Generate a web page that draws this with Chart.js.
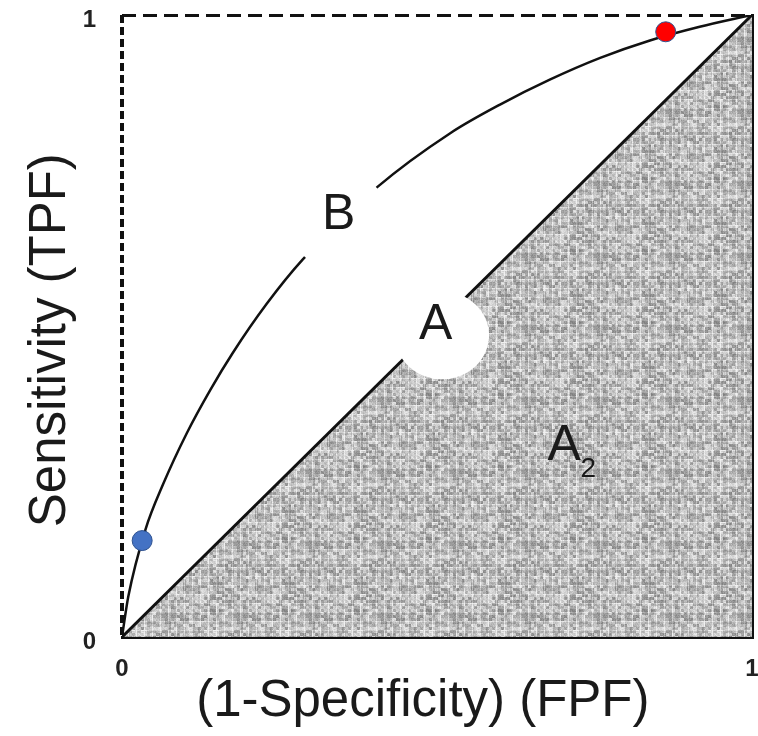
<!DOCTYPE html>
<html>
<head>
<meta charset="utf-8">
<script src="https://cdn.jsdelivr.net/npm/chart.js@4"></script>
<style>
  html, body { margin: 0; background: #fff; }
</style>
</head>
<body>
<canvas id="rocChart" width="758" height="736"></canvas>
<script>
// ROC curve B
const curveFpf = [0, 0.01, 0.037, 0.065, 0.103, 0.14, 0.176, 0.23, 0.287, 0.406, 0.521, 0.6, 0.679, 0.759, 0.838, 0.917, 1];
const curveTpf = [0, 0.065, 0.172, 0.245, 0.328, 0.397, 0.457, 0.536, 0.607, 0.724, 0.81, 0.856, 0.896, 0.931, 0.959, 0.981, 1];
// chance line
const diagFpf = [0, 1];
const diagTpf = [0, 1];
// highlighted operating points
const markerFpf = [0.032, 0.863];
const markerTpf = [0.155, 0.973];
const markerColors = ['#4472C4', '#FF0000'];
const tickValues = [0, 1];

const FONT = "'Liberation Sans', Arial, sans-serif";

// grey halftone texture for area A2
function makeTexture() {
  const c = document.createElement('canvas');
  c.width = 72; c.height = 72;
  const g = c.getContext('2d');
  const img = g.createImageData(72, 72);
  for (let j = 0; j < 72; j++) {
    for (let i = 0; i < 72; i++) {
      let h = Math.sin(Math.floor(i / 3) * 12.9898 + Math.floor(j / 3) * 78.233) * 43758.5453;
      h = h - Math.floor(h);
      let h2 = Math.sin(i * 3.17 + j * 17.41) * 9631.77;
      h2 = h2 - Math.floor(h2);
      let v = 125 + 80 * h + 30 * h2;
      if (i % 8 === 0) v += 35;
      if (j % 9 === 0) v += 25;
      v = Math.min(240, v);
      const k = (j * 72 + i) * 4;
      img.data[k] = img.data[k + 1] = img.data[k + 2] = v;
      img.data[k + 3] = 255;
    }
  }
  g.putImageData(img, 0, 0);
  return g.createPattern(c, 'repeat');
}

const regionLabels = {
  id: 'regionLabels',
  afterDatasetsDraw(chart) {
    const {ctx, scales: {x, y}} = chart;
    const px = v => x.getPixelForValue(v);
    const py = v => y.getPixelForValue(v);
    ctx.save();
    // white gaps behind the letters
    ctx.fillStyle = '#fff';
    ctx.beginPath();
    ctx.ellipse(px(0.344), py(0.67), 50, 50, 0, 0, 2 * Math.PI);
    ctx.fill();
    ctx.beginPath();
    ctx.ellipse(px(0.508), py(0.485), 47, 44, 0, 0, 2 * Math.PI);
    ctx.fill();

    ctx.fillStyle = '#1a1a1a';
    ctx.textAlign = 'center';
    ctx.textBaseline = 'middle';
    ctx.font = '50px ' + FONT;
    ctx.fillText('B', px(0.344), py(0.678));
    ctx.fillText('A', px(0.498), py(0.502));
    ctx.fillText('A', px(0.702), py(0.306));
    ctx.font = '28px ' + FONT;
    ctx.fillText('2', px(0.74), py(0.27));
    ctx.restore();
  }
};

const edgeOnly = v => c => (c.tick && c.tick.value === v ? '#111' : 'rgba(0,0,0,0)');

const ctx = document.getElementById('rocChart').getContext('2d');
new Chart(ctx, {
  type: 'scatter',
  data: {
    datasets: [
      {
        label: 'points',
        data: markerFpf.map((v, i) => ({x: v, y: markerTpf[i]})),
        pointRadius: 10,
        pointBackgroundColor: markerColors,
        pointBorderColor: '#2F528F',
        pointBorderWidth: 1,
        showLine: false,
        order: 0
      },
      {
        label: 'B',
        data: curveFpf.map((v, i) => ({x: v, y: curveTpf[i]})),
        showLine: true,
        borderColor: '#111',
        borderWidth: 2.5,
        pointRadius: 0,
        cubicInterpolationMode: 'monotone',
        fill: false,
        order: 1
      },
      {
        label: 'chance',
        data: diagFpf.map((v, i) => ({x: v, y: diagTpf[i]})),
        showLine: true,
        borderColor: '#111',
        borderWidth: 3,
        pointRadius: 0,
        fill: 'start',
        backgroundColor: makeTexture(),
        order: 2
      }
    ]
  },
  options: {
    responsive: false,
    animation: false,
    layout: { autoPadding: false, padding: { top: 15, right: 0, bottom: 0, left: 0 } },
    plugins: {
      legend: { display: false },
      tooltip: { enabled: false }
    },
    scales: {
      x: {
        type: 'linear', position: 'bottom', min: 0, max: 1,
        afterBuildTicks: s => { s.ticks = tickValues.map(v => ({value: v})); },
        ticks: { padding: 18, color: '#222', font: { family: FONT, size: 24, weight: 'bold' } },
        // the grid line at 0 is the dashed left edge
        grid: { drawTicks: false, color: edgeOnly(0), lineWidth: 4 },
        border: { color: '#111', width: 3, dash: [8, 4] },
        title: {
          display: true, text: '(1-Specificity) (FPF)  ', color: '#1a1a1a',
          font: { family: FONT, size: 51 }, padding: { top: 0, bottom: 3 }
        },
        afterFit: s => { s.height = 99; s.paddingLeft = 0; s.paddingRight = 0; }
      },
      y: {
        type: 'linear', position: 'left', min: 0, max: 1,
        afterBuildTicks: s => { s.ticks = tickValues.map(v => ({value: v})); },
        ticks: { padding: 26, labelOffset: 5, color: '#222', font: { family: FONT, size: 24, weight: 'bold' } },
        // the grid line at 1 is the dashed top edge
        grid: { drawTicks: false, color: edgeOnly(1), lineWidth: 3 },
        border: { display: false, dash: [14, 7] },
        title: {
          display: true, text: 'Sensitivity (TPF)  ', color: '#1a1a1a',
          font: { family: FONT, size: 51 }, padding: { top: 20, bottom: 0 }
        },
        afterFit: s => { s.width = 122; s.paddingTop = 0; s.paddingBottom = 0; }
      },
      y2: {
        type: 'linear', position: 'right', min: 0, max: 1,
        ticks: { display: false },
        grid: { display: false, drawTicks: false },
        border: { color: '#111', width: 3 },
        afterFit: s => { s.width = 6; s.paddingTop = 0; s.paddingBottom = 0; }
      }
    }
  },
  plugins: [regionLabels]
});
</script>
</body>
</html>
